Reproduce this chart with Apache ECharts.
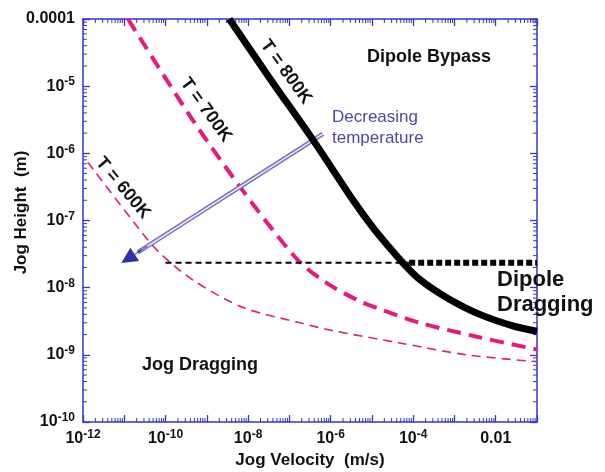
<!DOCTYPE html>
<html>
<head>
<meta charset="utf-8">
<script src="https://cdn.jsdelivr.net/npm/echarts@6/dist/echarts.min.js"></script>
<style>html,body{margin:0;padding:0;background:#fff}#c{width:605px;height:472px}</style>
</head>
<body>
<div id="c"></div>
<script>
// ---- data ----
const velocity800 = [3.5e-9, 3.5e-8, 3.7e-7, 3.5e-6, 1.05e-5, 2.3e-5, 5.6e-5, 1.45e-4, 6.5e-4, 4.1e-3, 2.6e-2, 0.1];
const height800   = [1e-4, 1.26e-5, 1.6e-6, 2.0e-7, 7.9e-8, 4.4e-8, 2.35e-8, 1.32e-8, 7.1e-9, 4.0e-9, 2.7e-9, 2.24e-9];
const velocity700 = [1.23e-11, 4.6e-10, 6.3e-9, 4.0e-8, 1.8e-7, 8.1e-7, 4.3e-6, 1.3e-5, 1.45e-4, 3.5e-3, 0.1];
const height700   = [1e-4, 3.1e-6, 3.2e-7, 7.2e-8, 2.4e-8, 1.17e-8, 6.6e-9, 5.0e-9, 3.0e-9, 1.86e-9, 1.2e-9];
const velocity600 = [1.3e-12, 2.4e-11, 7.2e-11, 4.6e-10, 7.4e-9, 1.8e-7, 1.1e-6, 4.8e-5, 2.0e-3, 0.1];
const height600   = [7.4e-7, 7.2e-8, 3.3e-8, 1.3e-8, 5.1e-9, 3.0e-9, 2.3e-9, 1.5e-9, 1.0e-9, 7.9e-10];
const boundaryThinVelocity  = [1e-10, 8e-5];
const boundaryThinHeight    = [2.35e-8, 2.35e-8];
const boundaryThickVelocity = [8e-5, 0.1];
const boundaryThickHeight   = [2.35e-8, 2.35e-8];
const arrowVelocity = [6.5e-7, 1.23e-11];
const arrowHeight   = [1.95e-6, 2.7e-8];
const xRange = [1e-12, 1e-1];
const yRange = [1e-10, 1e-4];
const xTickLabels = [1e-12, 1e-10, 1e-8, 1e-6, 1e-4, 1e-2];
const xTickTexts  = ['10|-12', '10|-10', '10|-8', '10|-6', '10|-4', '0.01'];
const yTickLabels = [1e-4, 1e-5, 1e-6, 1e-7, 1e-8, 1e-9, 1e-10];
const yTickTexts  = ['0.0001', '10|-5', '10|-6', '10|-7', '10|-8', '10|-9', '10|-10'];

// ---- helpers ----
const L = Math.log10;
const pairs = (xs, ys) => xs.map((x, i) => [L(x), L(ys[i])]);
const FONT = '"Liberation Sans", Arial, Helvetica, sans-serif';
const AX = '#3434c8';
const PINK = '#e8187c';
function labelFor(list, texts, v) {
  for (let i = 0; i < list.length; i++) {
    if (Math.abs(L(list[i]) - v) < 1e-6) {
      const t = texts[i];
      if (t.indexOf('|') < 0) return '{b|' + t + '}';
      const p = t.split('|');
      return '{b|' + p[0] + '}{s|' + p[1] + '}';
    }
  }
  return '';
}
const rich = {
  b: {fontFamily: FONT, fontWeight: 'bold', fontSize: 16, color: '#111', lineHeight: 20},
  s: {fontFamily: FONT, fontWeight: 'bold', fontSize: 12, color: '#111', verticalAlign: 'top', lineHeight: 12}
};
const xMin = L(xRange[0]), xMax = L(xRange[1]), yMin = L(yRange[0]), yMax = L(yRange[1]);
const xMinor = [], yMinor = [];
for (let d = Math.round(xMin); d < Math.round(xMax); d++) for (let k = 2; k <= 9; k++) xMinor.push([d + L(k), yMin]);
for (let d = Math.round(yMin); d < Math.round(yMax); d++) for (let k = 2; k <= 9; k++) yMinor.push([xMin, d + L(k)]);

const axisCommon = {
  type: 'value', interval: 1,
  axisLine: {show: true, onZero: false, lineStyle: {color: AX, width: 1.5}},
  axisTick: {show: true, inside: true, length: 7, lineStyle: {color: AX, width: 1.3}},
  splitLine: {show: false}
};

const chart = echarts.init(document.getElementById('c'), null, {renderer: 'canvas'});
const arrowPts = pairs(arrowVelocity, arrowHeight);
const along = f => [arrowPts[0][0] + (arrowPts[1][0] - arrowPts[0][0]) * f, arrowPts[0][1] + (arrowPts[1][1] - arrowPts[0][1]) * f];

chart.setOption({
  animation: false,
  backgroundColor: '#fff',
  grid: {left: 83, right: 68, top: 19, bottom: 50, containLabel: false, outerBoundsMode: 'none'},
  xAxis: [
    Object.assign({}, axisCommon, {
      position: 'bottom', min: xMin, max: xMax,
      name: 'Jog Velocity  (m/s)', nameLocation: 'middle', nameGap: 30, nameMoveOverlap: false,
      nameTextStyle: {fontFamily: FONT, fontWeight: 'bold', fontSize: 17, color: '#111'},
      axisLabel: {show: true, margin: 7, formatter: v => labelFor(xTickLabels, xTickTexts, v), rich: rich}
    }),
    Object.assign({}, axisCommon, {position: 'top', min: xMin, max: xMax, axisLabel: {show: false}})
  ],
  yAxis: [
    Object.assign({}, axisCommon, {
      position: 'left', min: yMin, max: yMax,
      name: 'Jog Height  (m)', nameLocation: 'middle', nameGap: 53, nameMoveOverlap: false,
      nameTextStyle: {fontFamily: FONT, fontWeight: 'bold', fontSize: 17, color: '#111', padding: [0, 0, 0, 16]},
      axisLabel: {show: true, margin: 8, formatter: v => labelFor(yTickLabels, yTickTexts, v), rich: rich}
    }),
    Object.assign({}, axisCommon, {position: 'right', min: yMin, max: yMax, axisLabel: {show: false}})
  ],
  series: [
    {
      type: 'custom', silent: true, clip: false, data: xMinor, z: 1,
      renderItem: (params, api) => {
        const b = api.coord([api.value(0), yMin]);
        const t = api.coord([api.value(0), yMax]);
        const st = {stroke: AX, lineWidth: 1};
        return {type: 'group', children: [
          {type: 'line', shape: {x1: b[0], y1: b[1], x2: b[0], y2: b[1] - 4}, style: st},
          {type: 'line', shape: {x1: t[0], y1: t[1], x2: t[0], y2: t[1] + 4}, style: st}
        ]};
      }
    },
    {
      type: 'custom', silent: true, clip: false, data: yMinor, z: 1,
      renderItem: (params, api) => {
        const l = api.coord([xMin, api.value(1)]);
        const r = api.coord([xMax, api.value(1)]);
        const st = {stroke: AX, lineWidth: 1};
        return {type: 'group', children: [
          {type: 'line', shape: {x1: l[0], y1: l[1], x2: l[0] + 4, y2: l[1]}, style: st},
          {type: 'line', shape: {x1: r[0], y1: r[1], x2: r[0] - 4, y2: r[1]}, style: st}
        ]};
      }
    },
    {
      name: 'T = 600K', type: 'line', data: pairs(velocity600, height600), smooth: 0.3,
      showSymbol: false, silent: true, z: 3,
      lineStyle: {color: PINK, width: 1.6, type: [9, 6]}
    },
    {
      name: 'T = 700K', type: 'line', data: pairs(velocity700, height700), smooth: 0.3,
      showSymbol: false, silent: true, z: 3,
      lineStyle: {color: PINK, width: 4, type: [14, 8]}
    },
    {
      type: 'lines', coordinateSystem: 'cartesian2d', silent: true, z: 4,
      symbol: ['none', 'none'],
      lineStyle: {color: '#7070c0', width: 4.5, opacity: 1},
      data: [{coords: [arrowPts[0], along(0.95)]}]
    },
    {
      type: 'lines', coordinateSystem: 'cartesian2d', silent: true, z: 5,
      symbol: ['none', 'none'],
      lineStyle: {color: '#e6e6f6', width: 1.6, opacity: 1},
      data: [{coords: [arrowPts[0], along(0.93)]}]
    },
    {
      type: 'lines', coordinateSystem: 'cartesian2d', silent: true, z: 6,
      symbol: ['none', 'triangle'], symbolSize: [14, 16],
      lineStyle: {color: '#2f2fa6', width: 1, opacity: 1},
      data: [{coords: [along(0.9), arrowPts[1]]}]
    },
    {
      type: 'line', data: pairs(boundaryThinVelocity, boundaryThinHeight),
      showSymbol: false, silent: true, z: 6,
      lineStyle: {color: '#000', width: 2, type: [6, 4], cap: 'butt'}
    },
    {
      type: 'line', data: pairs(boundaryThickVelocity, boundaryThickHeight),
      showSymbol: false, silent: true, z: 6,
      lineStyle: {color: '#000', width: 6, type: [6, 3], cap: 'butt'}
    },
    {
      name: 'T = 800K', type: 'line', data: pairs(velocity800, height800), smooth: 0.3,
      showSymbol: false, silent: true, z: 7,
      lineStyle: {color: '#000', width: 7, cap: 'butt', join: 'round'}
    }
  ],
  graphic: [
    {type: 'text', x: 286, y: 72, rotation: -54 * Math.PI / 180, z: 20,
      style: {text: 'T = 800K', x: 0, y: 0, align: 'center', verticalAlign: 'middle', font: 'bold 18px ' + FONT, fill: '#111'}},
    {type: 'text', x: 206, y: 110, rotation: -54 * Math.PI / 180, z: 20,
      style: {text: 'T = 700K', x: 0, y: 0, align: 'center', verticalAlign: 'middle', font: 'bold 18px ' + FONT, fill: '#111'}},
    {type: 'text', x: 123, y: 188, rotation: -50 * Math.PI / 180, z: 20,
      style: {text: 'T = 600K', x: 0, y: 0, align: 'center', verticalAlign: 'middle', font: 'bold 18px ' + FONT, fill: '#111'}},
    {type: 'text', x: 429, y: 57, z: 20,
      style: {text: 'Dipole Bypass', align: 'center', verticalAlign: 'middle', font: 'bold 18px ' + FONT, fill: '#111'}},
    {type: 'text', x: 332, y: 107, z: 20,
      style: {text: 'Decreasing\ntemperature', align: 'left', verticalAlign: 'top', font: '17px ' + FONT, lineHeight: 21, fill: '#4a4aa6'}},
    {type: 'text', x: 497, y: 267, z: 20,
      style: {text: 'Dipole\nDragging', align: 'left', verticalAlign: 'top', font: 'bold 22px ' + FONT, lineHeight: 25, fill: '#111'}},
    {type: 'text', x: 200, y: 365, z: 20,
      style: {text: 'Jog Dragging', align: 'center', verticalAlign: 'middle', font: 'bold 18px ' + FONT, fill: '#111'}}
  ]
});
</script>
</body>
</html>
